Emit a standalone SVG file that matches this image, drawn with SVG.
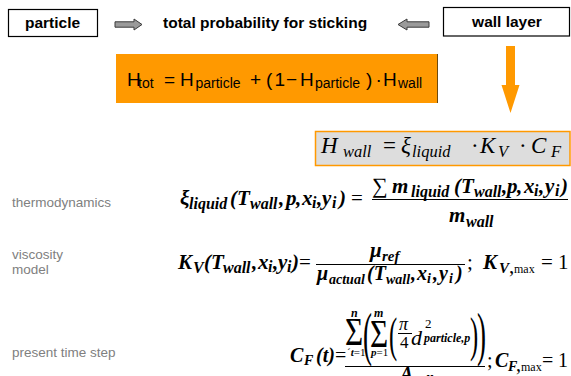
<svg xmlns="http://www.w3.org/2000/svg" width="571" height="376" viewBox="0 0 571 376">
<style>
.lbl{font-family:"Liberation Sans",Arial,sans-serif;font-weight:bold;font-size:15.5px;fill:#000}
.gray{font-family:"Liberation Sans",Arial,sans-serif;font-size:13.5px;fill:#808080}
.box{fill:#fff;stroke:#000;stroke-width:1.2}
.ga{fill:#9a9a9a;stroke:#3a3a3a;stroke-width:1}
.sans{font-family:"Liberation Sans",Arial,sans-serif;fill:#000}
.ser{font-family:"Liberation Serif","Times New Roman",serif;fill:#000}
.bi{font-style:italic;font-weight:bold}
.it{font-style:italic}
.up{font-style:normal;font-weight:normal}
.bar{stroke:#000;stroke-width:1.2}
</style>
<rect width="571" height="376" fill="#fff"/>

<g id="particle">
<rect class="box" x="8.5" y="9.5" width="89" height="27"/>
<text class="lbl" x="52.5" y="28" text-anchor="middle">particle</text>
</g>

<g id="title">
<text class="lbl" x="163" y="28">total probability for sticking</text>
</g>

<g id="wall-layer">
<rect class="box" x="443.5" y="7.5" width="126" height="28.5"/>
<text class="lbl" x="507" y="27" text-anchor="middle">wall layer</text>
</g>

<g id="connectors">
<polygon class="ga" points="115,21.8 134,21.8 134,19 142,24.5 134,30 134,27.2 115,27.2"/>
<polygon class="ga" points="429,21.8 407,21.8 407,19 398,24.5 407,30 407,27.2 429,27.2"/>
<polygon fill="#ff9900" points="506,46 515,46 515,85 519.5,85 510.5,113 501.5,85 506,85"/>
</g>

<g id="htot-box">
<rect x="116" y="54" width="322" height="49" fill="#ff9900"/>
<line x1="437.5" y1="54" x2="437.5" y2="103" stroke="#6b4a10" stroke-width="1"/>
<text class="sans" font-size="19" y="86"><tspan x="127">H</tspan><tspan x="138" y="88" font-size="14">tot</tspan><tspan x="164" y="86">=</tspan><tspan x="180">H</tspan><tspan x="195.5" y="88" font-size="14">particle</tspan><tspan x="250" y="86">+</tspan><tspan x="266">(</tspan><tspan x="274.5">1</tspan><tspan x="286">−</tspan><tspan x="300">H</tspan><tspan x="315" y="88" font-size="14">particle</tspan><tspan x="366" y="86">)</tspan><tspan x="375.5">·</tspan><tspan x="383">H</tspan><tspan x="398" y="88" font-size="14">wall</tspan></text>
</g>

<g id="hwall-box">
<rect x="315.5" y="131.5" width="254.5" height="34" fill="#dddddd" stroke="#ff9900" stroke-width="1.5"/>
<text class="ser it" font-size="23" y="153"><tspan x="321">H</tspan><tspan x="343" y="157" font-size="16.5">wall</tspan><tspan class="up" x="383" y="153">=</tspan><tspan x="401">ξ</tspan><tspan x="412" y="157" font-size="16.5">liquid</tspan><tspan class="up" x="471" y="153">·</tspan><tspan x="480">K</tspan><tspan x="498" y="157" font-size="16.5">V</tspan><tspan class="up" x="519" y="153">·</tspan><tspan x="531">C</tspan><tspan x="551" y="157" font-size="16.5">F</tspan></text>
</g>

<g id="thermodynamics">
<text class="gray" x="12" y="207">thermodynamics</text>
<text class="ser bi" font-size="21" y="205"><tspan x="180">ξ</tspan><tspan x="189" y="209" font-size="16">liquid</tspan><tspan x="230" y="205">(T</tspan><tspan x="250" y="209" font-size="16">wall</tspan><tspan x="279" y="205">,</tspan><tspan x="286">p</tspan><tspan x="296">,</tspan><tspan x="302">x</tspan><tspan x="312" y="208" font-size="16">i</tspan><tspan x="317" y="205">,</tspan><tspan x="322">y</tspan><tspan x="332" y="208" font-size="16">i</tspan><tspan x="339" y="205">)</tspan></text>
<text class="ser" font-size="21" x="351" y="205">=</text>
<text class="ser" font-size="22" x="372" y="193">∑</text>
<text class="ser bi" font-size="21" y="193"><tspan x="392">m</tspan><tspan x="411" y="197" font-size="16">liquid</tspan><tspan x="454" y="193">(T</tspan><tspan x="474" y="197" font-size="16">wall</tspan><tspan x="502" y="193">,</tspan><tspan x="507">p</tspan><tspan x="517">,</tspan><tspan x="524">x</tspan><tspan x="534" y="196" font-size="16">i</tspan><tspan x="539" y="193">,</tspan><tspan x="545">y</tspan><tspan x="555" y="196" font-size="16">i</tspan><tspan x="561" y="193">)</tspan></text>
<line class="bar" x1="372" y1="199.5" x2="568" y2="199.5"/>
<text class="ser bi" font-size="21" y="222"><tspan x="449">m</tspan><tspan x="466" y="227" font-size="16">wall</tspan></text>
</g>

<g id="viscosity">
<text class="gray" x="12" y="259">viscosity</text>
<text class="gray" x="12" y="274">model</text>
<text class="ser bi" font-size="21" y="269"><tspan x="178">K</tspan><tspan x="193" y="273" font-size="16">V</tspan><tspan x="204" y="269">(T</tspan><tspan x="223" y="273" font-size="16">wall</tspan><tspan x="252" y="269">,</tspan><tspan x="258">x</tspan><tspan x="268" y="272" font-size="16">i</tspan><tspan x="273" y="269">,</tspan><tspan x="278">y</tspan><tspan x="287" y="272" font-size="16">i</tspan><tspan x="292" y="269">)</tspan></text>
<text class="ser" font-size="21" x="299" y="269">=</text>
<text class="ser bi" font-size="21" y="257"><tspan x="370">μ</tspan><tspan x="382" y="261" font-size="15">ref</tspan></text>
<line class="bar" x1="316" y1="264.5" x2="465" y2="264.5"/>
<text class="ser bi" font-size="20" y="280"><tspan x="317">μ</tspan><tspan x="329" y="284" font-size="14">actual</tspan><tspan x="367" y="280">(T</tspan><tspan x="386" y="284" font-size="14">wall</tspan><tspan x="411" y="280">,</tspan><tspan x="417">x</tspan><tspan x="427" y="283" font-size="14">i</tspan><tspan x="433" y="280">,</tspan><tspan x="439">y</tspan><tspan x="449" y="283" font-size="14">i</tspan><tspan x="456" y="280">)</tspan></text>
<text class="ser" font-size="21" x="467" y="269">;</text>
<text class="ser bi" font-size="21" y="269"><tspan x="483">K</tspan><tspan x="499" y="273" font-size="15">V</tspan></text>
<text class="ser" font-size="21" x="509" y="273">,</text>
<text class="ser" font-size="12" x="514" y="273">max</text>
<text class="ser" font-size="21" y="269"><tspan x="541">=</tspan><tspan x="558">1</tspan></text>
</g>

<g id="present-time-step">
<text class="gray" x="12" y="357">present time step</text>
<text class="ser bi" font-size="20" y="362"><tspan x="290">C</tspan><tspan x="304" y="365" font-size="14">F</tspan><tspan x="316" y="362">(t)</tspan></text>
<text class="ser" font-size="20" x="335" y="362">=</text>
<text class="ser bi" font-size="12"><tspan x="351" y="317">n</tspan><tspan x="374" y="317">m</tspan></text>
<text class="ser" font-size="40" transform="translate(345,345) scale(0.78,1)">Σ</text>
<text class="ser" font-size="40" transform="translate(370,347) scale(0.78,1)">Σ</text>
<text class="ser" font-size="11" y="356"><tspan x="347">´</tspan><tspan class="bi">t</tspan><tspan>=1</tspan></text>
<text class="ser" font-size="11" y="356"><tspan class="bi" x="371">p</tspan><tspan>=1</tspan></text>
<text class="ser" font-size="60" transform="translate(363,354) scale(0.45,1)">(</text>
<text class="ser" font-size="49" transform="translate(389,351) scale(0.5,1)">(</text>
<text class="ser it" font-size="18" x="399" y="330">π</text>
<line x1="398" y1="333.5" x2="412" y2="333.5" stroke="#000" stroke-width="1"/>
<text class="ser" font-size="17" x="400" y="348">4</text>
<text class="ser it" font-size="22" x="411" y="345">d</text>
<text class="ser" font-size="13" x="425" y="328">2</text>
<text class="ser bi" font-size="12" x="424" y="342">particle,p</text>
<text class="ser" font-size="49" transform="translate(470,351) scale(0.5,1)">)</text>
<text class="ser" font-size="60" transform="translate(477,354) scale(0.45,1)">)</text>
<line class="bar" x1="345" y1="366.5" x2="485" y2="366.5"/>
<text class="ser bi" font-size="20" y="381"><tspan x="400">A</tspan><tspan x="413" y="385" font-size="14">cells</tspan></text>
<text class="ser" font-size="20" x="487" y="367">;</text>
<text class="ser bi" font-size="20" y="367"><tspan x="495">C</tspan><tspan x="508" y="371" font-size="14">F</tspan></text>
<text class="ser" font-size="20" x="516" y="371">,</text>
<text class="ser" font-size="12" x="521" y="371">max</text>
<text class="ser" font-size="20" y="367"><tspan x="542">=</tspan><tspan x="558">1</tspan></text>
</g>
</svg>
